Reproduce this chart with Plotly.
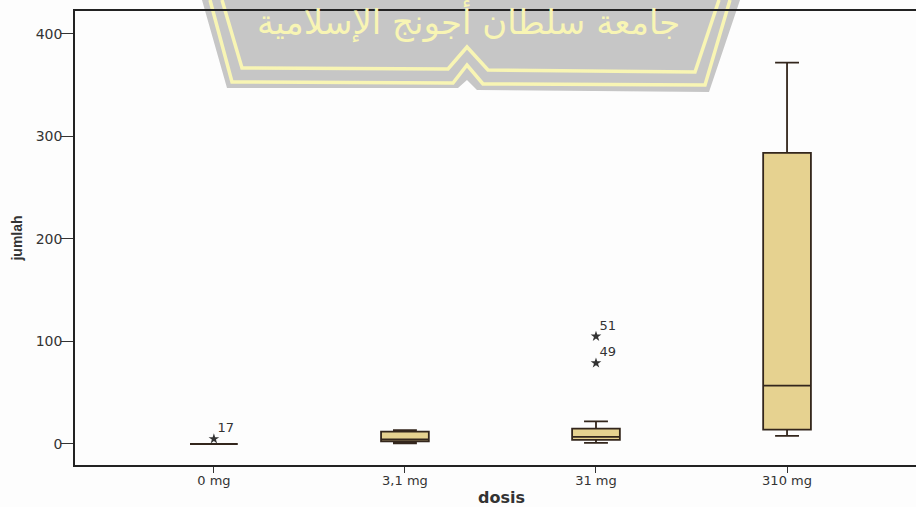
import plotly.graph_objects as go

categories = ["0 mg", "3,1 mg", "31 mg", "310 mg"]
q1 = [0, 2.5, 4, 14]
medians = [0, 4.5, 7, 57]
q3 = [0, 12, 15, 284]
lower = [0, 0.7, 1, 8]
upper = [0, 13.6, 22, 372]
outlier_cat = ["0 mg", "31 mg", "31 mg"]
outlier_val = [5, 79, 105]
outlier_id = ["17", "49", "51"]
y_ticks = [0, 100, 200, 300, 400]

W, H = 916, 507
L, R, T, B = 75, 916, 11, 465
INK = "#333333"

def px(x):
    return (x - L) / (R - L)

def py(y):
    return (B - y) / (B - T)

def path(points):
    return "M " + " L ".join(f"{px(x):.5f},{py(y):.5f}" for x, y in points) + " Z"

def openpath(points):
    return "M " + " L ".join(f"{px(x):.5f},{py(y):.5f}" for x, y in points)

fig = go.Figure()
fig.add_trace(go.Box(
    x=categories, q1=q1, median=medians, q3=q3, lowerfence=lower, upperfence=upper,
    width=0.25, whiskerwidth=0.5, boxpoints=False,
    fillcolor="#e6d290", line=dict(color="#33261c", width=1.8), showlegend=False,
))
fig.add_trace(go.Scatter(
    x=outlier_cat, y=outlier_val, mode="markers",
    marker=dict(symbol="star", size=8, color=INK), showlegend=False,
))
fig.add_trace(go.Scatter(
    x=outlier_cat, y=outlier_val, mode="markers+text", text=outlier_id,
    textposition="top right", textfont=dict(family="DejaVu Sans", size=13, color=INK),
    marker=dict(size=4, opacity=0), showlegend=False,
))

YELLOW = "#f8f5b4"
shapes = [
    dict(type="path", xref="paper", yref="paper", layer="below", line=dict(width=0), fillcolor="#c6c6c6",
         path=path([(202, 0), (227, 88), (458, 88), (467, 80), (477, 90), (709, 92), (740, 0)])),
    dict(type="path", xref="paper", yref="paper", layer="below", line=dict(color=YELLOW, width=3.5),
         path=openpath([(210, 0), (232, 82), (453, 83), (467, 65), (483, 84), (705, 85), (730, 0)])),
    dict(type="path", xref="paper", yref="paper", layer="below", line=dict(color=YELLOW, width=3.5),
         path=openpath([(222, 0), (242, 68), (448, 69), (467, 47), (488, 70), (695, 72), (719, 0)])),
]

fig.update_layout(
    width=W, height=H, autosize=False,
    margin=dict(l=L, r=W - R, t=T, b=H - B),
    paper_bgcolor="#fdfdfd", plot_bgcolor="rgba(0,0,0,0)",
    font=dict(family="DejaVu Sans", color=INK),
    shapes=shapes,
    annotations=[
        dict(text="جامعة سلطان أجونج الإسلامية", xref="paper", yref="paper",
             x=px(468), y=py(22), showarrow=False, xanchor="center", yanchor="middle",
             font=dict(family="DejaVu Sans", size=34, color=YELLOW)),
        dict(text="<b>dosis</b>", xref="paper", yref="paper",
             x=px(501), y=py(497), showarrow=False, xanchor="center", yanchor="middle",
             font=dict(family="DejaVu Sans", size=16, color=INK)),
    ],
    xaxis=dict(
        type="category", categoryorder="array", categoryarray=categories,
        range=[-0.727, 3.675], showgrid=False, zeroline=False, showline=True, mirror=True,
        linecolor="#222222", linewidth=1.5, ticks="outside", ticklen=6, tickcolor=INK,
        ticklabelstandoff=-3,
        tickfont=dict(family="DejaVu Sans", size=13, color=INK),
    ),
    yaxis=dict(
        range=[-20.5, 422.4], tickvals=y_ticks, showgrid=False, zeroline=False, showline=True,
        linecolor="#222222", linewidth=1.5, ticks="outside", ticklen=12, tickcolor=INK,
        ticklabelstandoff=-4,
        tickfont=dict(family="DejaVu Sans", size=14, color=INK),
        title=dict(text="<b>jumlah</b>", standoff=10, font=dict(family="Liberation Sans", size=14, color=INK)),
    ),
)
fig.write_html(
    "out.html",
    config=dict(displayModeBar=False),
    post_script="document.body.style.margin='0';document.body.style.overflow='hidden';document.body.style.background='#fdfdfd';",
)
